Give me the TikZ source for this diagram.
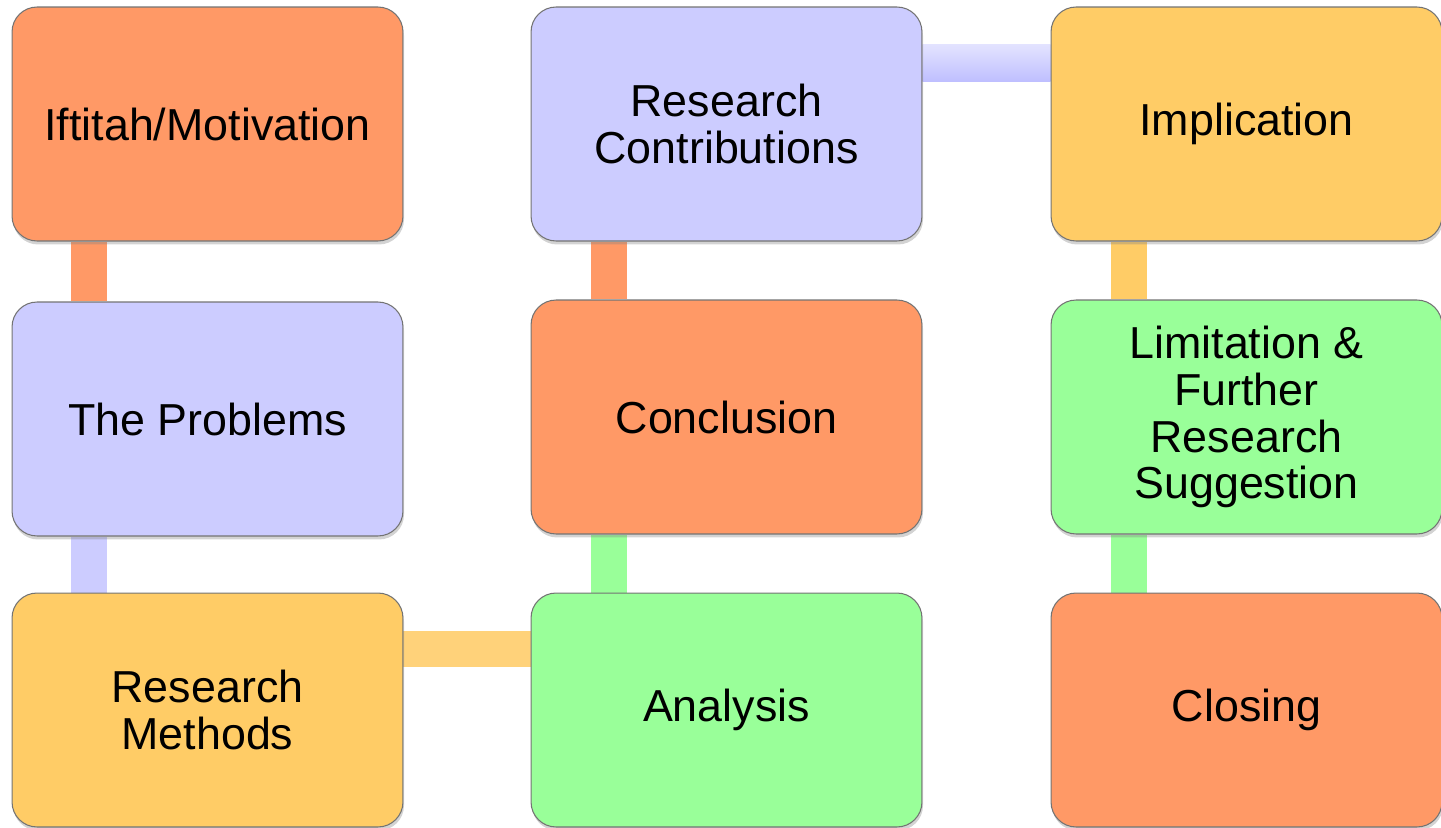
\documentclass[tikz,border=0pt]{standalone}
\usepackage{fontspec}
\setmainfont{Liberation Sans}
\usetikzlibrary{shadows,backgrounds}
\definecolor{boxorange}{HTML}{FF9966}
\definecolor{boxlav}{HTML}{CCCCFF}
\definecolor{boxyellow}{HTML}{FFCC66}
\definecolor{boxgreen}{HTML}{99FF99}
\definecolor{linkyellow}{HTML}{FFD27A}
\begin{document}
\begin{tikzpicture}[x=0.02cm,y=-0.02cm,
  stage/.style={draw=black!55,line width=0.6pt,rounded corners=0.5cm,
    minimum width=7.82cm,minimum height=4.68cm,inner sep=0pt,align=center,
    font=\fontsize{25.5}{26.7}\selectfont,
    drop shadow={shadow xshift=0.6pt,shadow yshift=-2pt,opacity=0.35}},
  link/.style={line width=0.72cm}]
  \useasboundingbox (0,0) rectangle (1441,828);
  % left column
  \node[stage,fill=boxorange] (iftitah) at (207.5,124){Iftitah/Motivation};
  \node[stage,fill=boxlav] (problems) at (207.5,419){The Problems};
  \node[stage,fill=boxyellow] (methods) at (207.5,710){Research\\Methods};
  % middle column
  \node[stage,fill=boxgreen] (analysis) at (726.5,710){Analysis};
  \node[stage,fill=boxorange] (conclusion) at (726.5,417){Conclusion};
  \node[stage,fill=boxlav] (contrib) at (726.5,124){Research\\Contributions};
  % right column
  \node[stage,fill=boxyellow] (implication) at (1246.5,124){Implication};
  \node[stage,fill=boxgreen] (limitation) at (1246.5,417){Limitation \&\\Further\\Research\\Suggestion};
  \node[stage,fill=boxorange] (closing) at (1246.5,710){Closing};
  \begin{scope}[on background layer]
    \draw[link,boxorange]([xshift=1.55cm]iftitah.south west)--([xshift=1.55cm]problems.north west);
    \draw[link,boxlav]([xshift=1.55cm]problems.south west)--([xshift=1.55cm]methods.north west);
    \draw[link,linkyellow]([yshift=-1.14cm]methods.north east)--([yshift=-1.14cm]analysis.north west);
    \draw[link,boxgreen]([xshift=1.57cm]analysis.north west)--([xshift=1.57cm]conclusion.south west);
    \draw[link,boxorange]([xshift=1.57cm]conclusion.north west)--([xshift=1.57cm]contrib.south west);
    \shade[top color=boxlav!55,bottom color=boxlav!80!blue!70!white]
      ([yshift=-0.76cm]contrib.north east) rectangle ([yshift=-1.5cm]implication.north west);
    \draw[link,boxyellow]([xshift=1.57cm]implication.south west)--([xshift=1.57cm]limitation.north west);
    \draw[link,boxgreen]([xshift=1.57cm]limitation.south west)--([xshift=1.57cm]closing.north west);
  \end{scope}
\end{tikzpicture}
\end{document}
